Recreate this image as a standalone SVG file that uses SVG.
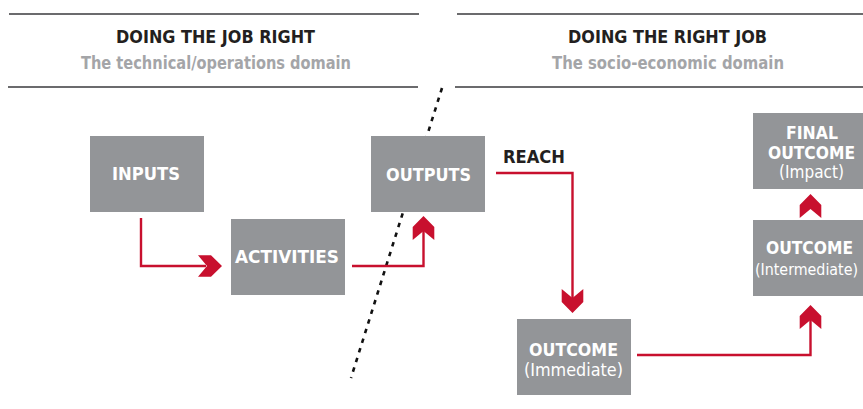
<svg xmlns="http://www.w3.org/2000/svg" xmlns:xlink="http://www.w3.org/1999/xlink" width="863" height="409" viewBox="0 0 863 409">
  <style>
    .rule { stroke: #3a3a3c; stroke-width: 1.6; fill: none; }
    .title { font-family: "DejaVu Sans Condensed", "Liberation Sans Narrow", "DejaVu Sans", sans-serif; font-stretch: condensed; font-weight: bold; font-size: 18.5px; fill: #231f20; text-anchor: start; }
    .sub { font-family: "DejaVu Sans Condensed", "Liberation Sans Narrow", "DejaVu Sans", sans-serif; font-stretch: condensed; font-weight: bold; font-size: 18.5px; fill: #a4a5a8; }
    .box { fill: #939598; }
    .label { font-family: "DejaVu Sans Condensed", "Liberation Sans Narrow", "DejaVu Sans", sans-serif; font-stretch: condensed; font-weight: bold; font-size: 18.5px; fill: #ffffff; }
    .paren { font-family: "DejaVu Sans Condensed", "Liberation Sans Narrow", "DejaVu Sans", sans-serif; font-stretch: condensed; font-weight: normal; font-size: 18px; fill: #ffffff; }
    .paren.tight { font-size: 16.5px; }
    .link { stroke: #c8102e; stroke-width: 2.4; fill: none; }
    .head { fill: #c8102e; }
    .divider { stroke: #111111; stroke-width: 2.6; stroke-dasharray: 4.5 5.6; fill: none; }
  </style>
  <defs>
    <!-- chevron arrowhead, tip at origin, pointing up -->
    <path id="chev" d="M0,0 L10.8,11 L10.8,24 L0,15 L-10.8,24 L-10.8,11 Z"/>
  </defs>

  <!-- domain headers -->
  <g id="header-left">
    <line class="rule" x1="9" y1="14" x2="419" y2="14"/>
    <line class="rule" x1="8" y1="87" x2="418" y2="87"/>
    <text class="title" x="116" y="43" textLength="199" lengthAdjust="spacingAndGlyphs">DOING THE JOB RIGHT</text>
    <text class="sub" x="81" y="69" textLength="270" lengthAdjust="spacingAndGlyphs">The technical/operations domain</text>
  </g>
  <g id="header-right">
    <line class="rule" x1="457" y1="14" x2="863" y2="14"/>
    <line class="rule" x1="455" y1="87" x2="863" y2="87"/>
    <text class="title" x="568" y="43" textLength="199" lengthAdjust="spacingAndGlyphs">DOING THE RIGHT JOB</text>
    <text class="sub" x="552" y="69" textLength="232" lengthAdjust="spacingAndGlyphs">The socio-economic domain</text>
  </g>

  <!-- boundary between the two domains -->
  <line id="boundary" class="divider" x1="442" y1="88" x2="351" y2="378"/>

  <!-- connectors -->
  <g id="connectors">
    <path class="link" d="M141,218 V266 H206"/>
    <use xlink:href="#chev" class="head" transform="translate(222,266) rotate(90)"/>

    <path class="link" d="M352,266 H423.5 V230"/>
    <use xlink:href="#chev" class="head" transform="translate(423.5,216)"/>

    <path class="link" d="M496,173 H572.5 V300"/>
    <use xlink:href="#chev" class="head" transform="translate(572.5,313) rotate(180)"/>
    <text class="title" x="503" y="163" textLength="62" lengthAdjust="spacingAndGlyphs">REACH</text>

    <path class="link" d="M637,355 H810.5 V318"/>
    <use xlink:href="#chev" class="head" transform="translate(810.5,305)"/>

    <use xlink:href="#chev" class="head" transform="translate(810.5,194)"/>
  </g>

  <!-- nodes -->
  <g id="inputs">
    <rect class="box" x="90" y="136" width="114" height="76"/>
    <text class="label" x="112" y="180" textLength="68" lengthAdjust="spacingAndGlyphs">INPUTS</text>
  </g>
  <g id="activities">
    <rect class="box" x="231" y="219" width="114" height="76"/>
    <text class="label" x="235" y="263" textLength="104" lengthAdjust="spacingAndGlyphs">ACTIVITIES</text>
  </g>
  <g id="outputs">
    <rect class="box" x="371" y="136" width="114" height="76"/>
    <text class="label" x="386" y="181" textLength="85" lengthAdjust="spacingAndGlyphs">OUTPUTS</text>
  </g>
  <g id="outcome-immediate">
    <rect class="box" x="517" y="319" width="114" height="76"/>
    <text class="label" x="529" y="356" textLength="89" lengthAdjust="spacingAndGlyphs">OUTCOME</text>
    <text class="paren" x="524" y="376" textLength="99" lengthAdjust="spacingAndGlyphs">(Immediate)</text>
  </g>
  <g id="outcome-intermediate">
    <rect class="box" x="753" y="220" width="110" height="76"/>
    <text class="label" x="766" y="254" textLength="87" lengthAdjust="spacingAndGlyphs">OUTCOME</text>
    <text class="paren tight" x="755" y="275" textLength="103" lengthAdjust="spacingAndGlyphs">(Intermediate)</text>
  </g>
  <g id="final-outcome">
    <rect class="box" x="753" y="113" width="110" height="76"/>
    <text class="label" x="786" y="139" textLength="52" lengthAdjust="spacingAndGlyphs">FINAL</text>
    <text class="label" x="768" y="159" textLength="87" lengthAdjust="spacingAndGlyphs">OUTCOME</text>
    <text class="paren" x="779" y="178" textLength="65" lengthAdjust="spacingAndGlyphs">(Impact)</text>
  </g>
</svg>
